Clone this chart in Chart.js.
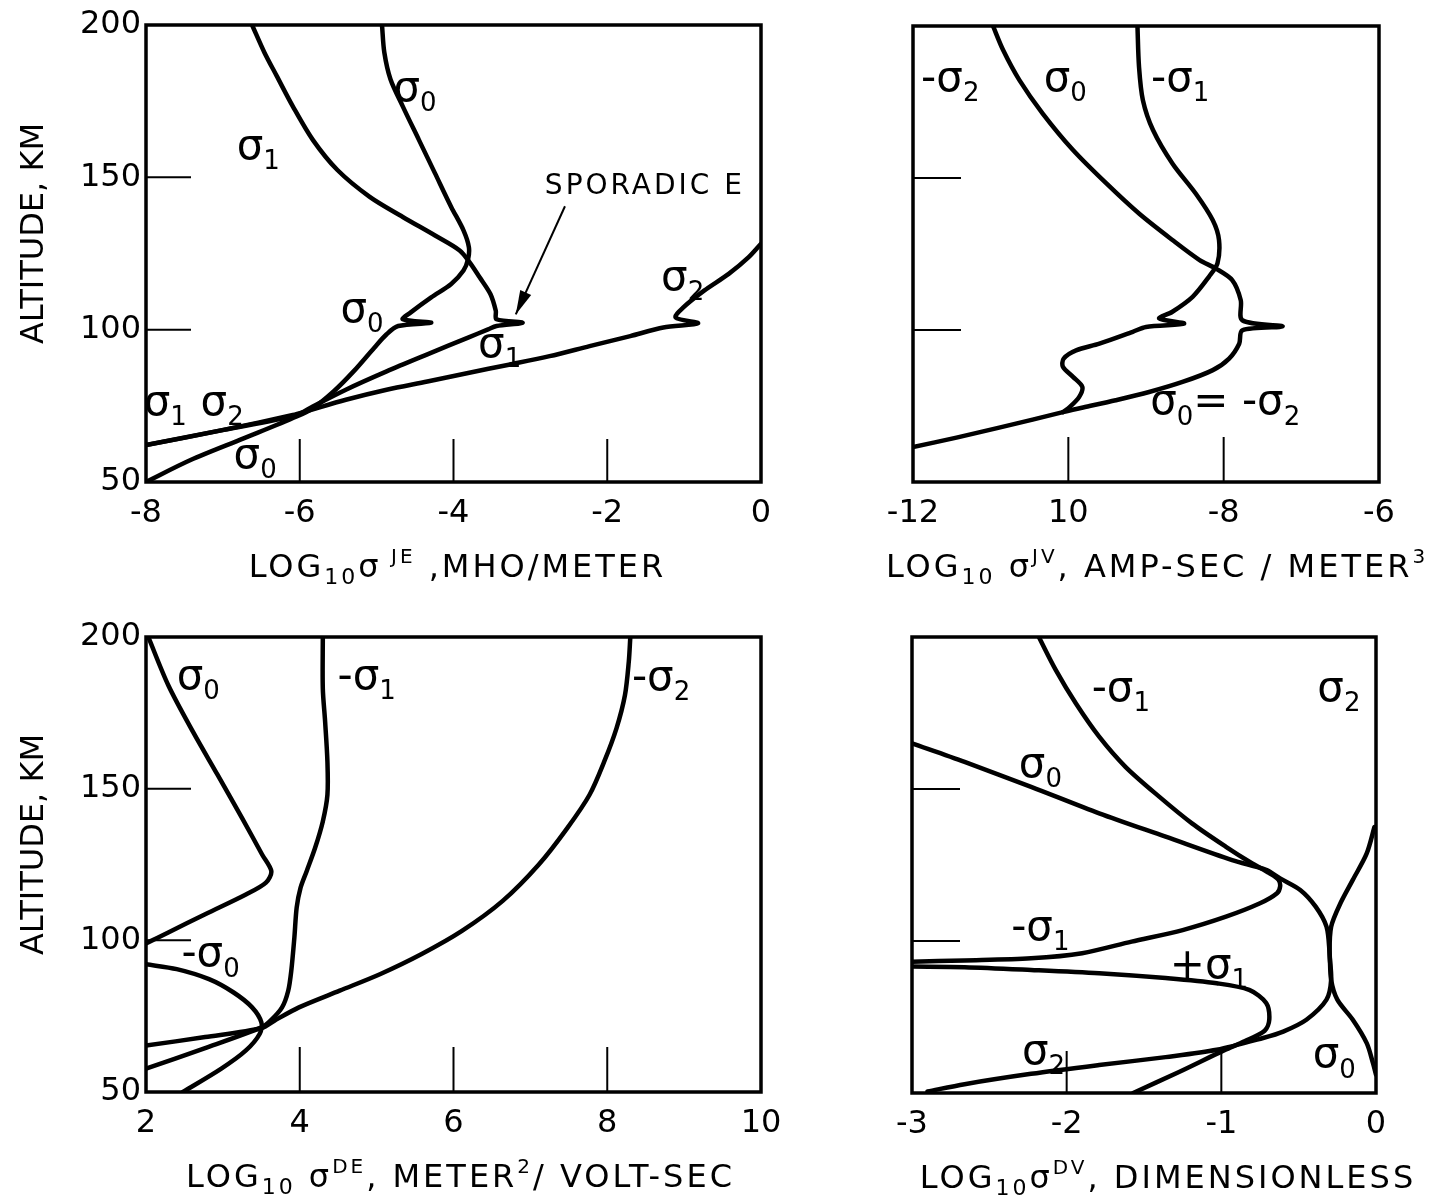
<!DOCTYPE html>
<html>
<head>
<meta charset="utf-8">
<script src="https://cdn.jsdelivr.net/npm/chart.js@4.4.1/dist/chart.umd.min.js"></script>
<style>
  html, body { margin: 0; padding: 0; background: #fff; }
  #wrap { position: relative; width: 1444px; height: 1203px; overflow: hidden; background: #fff; }
  #wrap canvas { position: absolute; }
</style>
</head>
<body>
<div id="wrap">
  <canvas id="pJE" width="800" height="610" style="left:0;top:0"></canvas>
  <canvas id="pJV" width="644" height="610" style="left:800px;top:0"></canvas>
  <canvas id="pDE" width="800" height="593" style="left:0;top:610px"></canvas>
  <canvas id="pDV" width="644" height="593" style="left:800px;top:610px"></canvas>
</div>
<script>
// ---------- altitude profiles (log10 value, altitude km) ----------

// sigma^JE, mho/meter
const jeS1Log = [-6.62,-6.46,-6.30,-6.09,-5.83,-5.51,-5.09,-4.66,-4.24,-3.92,-3.79,-3.66,-3.52,-3.45,-3.44,-3.10,-3.44,-3.55,-3.81,-4.34,-4.87,-5.40,-5.83,-6.04,-6.99,-8.0];
const jeS1Alt = [200,191.0,183.3,173.3,162.3,152.4,143.6,137.0,130.9,126.0,122.1,117.2,111.7,106.2,103.4,102.3,101.2,100.1,97.4,91.9,86.3,80.3,74.8,72.0,67.1,62.1];
const jeS0Log = [-4.93,-4.90,-4.82,-4.66,-4.45,-4.24,-4.03,-3.87,-3.80,-3.81,-3.87,-4.03,-4.29,-4.56,-4.66,-4.29,-4.72,-4.87,-5.03,-5.30,-5.56,-5.83,-6.04,-6.73,-7.42,-8.0];
const jeS0Alt = [200,191,182.2,173.3,162.3,151.3,140.3,132.6,127.1,123.2,119.4,115.0,110.6,105.6,103.4,102.3,101.2,98.5,94.1,86.3,79.7,74.2,71.5,64.3,57.2,50];
const jeS2Log = [0,-0.16,-0.42,-0.74,-1.01,-1.11,-0.82,-1.27,-1.70,-2.23,-2.75,-3.28,-3.81,-4.34,-4.87,-5.40,-5.93,-6.09,-6.99,-8.0];
const jeS2Alt = [128.2,123.8,118.3,112.8,107.3,104.0,102.1,100.7,97.9,94.6,91.3,88.5,85.8,83.0,80.3,77.0,73.1,72.0,67.1,62.1];

// sigma^JV, amp-sec/meter^3
const jvS0Log = [-10.97,-10.84,-10.63,-10.33,-9.94,-9.51,-9.09,-8.66,-8.31,-8.10,-7.89,-7.78,-7.76,-7.24,-7.76,-7.80,-7.93,-8.14,-8.53,-8.96,-9.39,-9.81,-10.07,-10.46,-10.89,-11.44,-12.0];
const jvS0Alt = [200,192.1,182.2,171.2,159.2,148.2,138.3,129.6,123.0,120.2,116.4,109.8,103.2,101.2,99.9,95.5,90.6,86.8,82.9,79.6,76.9,74.5,73.0,70.5,67.9,64.6,61.5];
const jvS1Log = [-9.11,-9.09,-9.04,-8.91,-8.66,-8.36,-8.14,-8.06,-8.08,-8.19,-8.40,-8.66,-8.83,-8.51,-9.0,-9.17,-9.60,-9.90,-10.06,-10.07,-9.94,-9.82,-9.86,-9.98,-10.07];
const jvS1Alt = [200,186.6,175.6,165.8,154.8,144.9,136.1,129.6,121.9,117.5,110.9,106.0,103.8,102.1,101.0,99.4,95.5,93.3,90.6,87.9,84.6,81.3,78.0,74.7,73.0];

// sigma^DE, meter^2/volt-sec
const deS0Log = [2.03,2.29,2.61,2.93,3.25,3.51,3.63,3.56,3.30,2.77,2.29,2.0];
const deS0Alt = [200,184.1,168.8,154.6,140.3,128.3,122.8,119.0,115.1,108.6,102.6,99.0];
const deNegS0Log = [2.0,2.40,2.82,3.14,3.38,3.50,3.48,3.30,2.98,2.48];
const deNegS0Alt = [92.1,90.5,87.2,82.8,77.9,73.0,69.2,63.7,57.7,50];
const deS1Log = [4.30,4.30,4.33,4.36,4.36,4.30,4.20,4.09,4.01,3.96,3.93,3.89,3.85,3.77,3.62,3.51,2.76,2.0];
const deS1Alt = [200,183,172.1,158.9,148.0,139.2,130.5,122.8,117.3,110.8,100.9,90.0,83.4,77.9,73.5,71.4,64.4,57.7];
const deS2Log = [8.30,8.28,8.23,8.12,7.96,7.77,7.48,7.11,6.64,6.11,5.58,5.05,4.52,3.99,3.67,3.51,2.77,2.0];
const deS2Alt = [200,191.8,180.8,169.9,158.9,148.0,137.0,125.0,113.0,103.1,95.4,88.9,83.4,77.9,73.5,71.1,68.1,65.3];

// sigma^DV, dimensionless
const dvNegS1Log = [-2.18,-2.07,-1.94,-1.79,-1.62,-1.40,-1.19,-0.97,-0.80,-0.69,-0.63,-0.62,-0.64,-0.75,-0.97,-1.25,-1.58,-1.90,-2.23,-2.66,-3.0];
const dvNegS1Alt = [200,189.1,178.1,167.2,157.3,147.4,138.7,131.0,125.5,122.3,120.1,117.9,115.7,112.4,108.0,103.6,99.8,96.0,94.3,93.6,93.2];
const dvPosS1Log = [-3.0,-2.66,-2.23,-1.79,-1.36,-1.03,-0.82,-0.71,-0.69,-0.72,-0.85,-0.98,-1.27,-1.57];
const dvPosS1Alt = [91.6,91.4,90.5,89.4,87.8,86.1,83.9,79.6,74.1,70.5,67.0,64.1,57.0,50.0];
const dvS2Log = [-0.01,-0.06,-0.15,-0.23,-0.29,-0.30,-0.29,-0.32,-0.45,-0.60,-0.73,-1.03,-1.36,-1.79,-2.23,-2.66,-2.90];
const dvS2Alt = [137.5,128.8,120.1,112.4,104.7,96.0,87.2,80.7,74.1,70.2,68.1,64.2,61.8,59.2,56.3,52.9,50.5];
const dvS0Log = [-3.0,-2.66,-2.23,-1.79,-1.36,-0.93,-0.71,-0.62,-0.49,-0.39,-0.32,-0.30,-0.29,-0.25,-0.15,-0.06,-0.02,0.0];
const dvS0Alt = [165.0,158.9,150.7,142.0,134.3,126.6,123.4,120.6,116.8,111.3,104.7,96.0,87.2,80.7,74.1,66.4,59.9,56.0];

// tick labels
const altTickLabels = ['50', '100', '150', '200'];
const jeTickLabels = ['-8', '-6', '-4', '-2', '0'];
const jvTickLabels = ['-12', '10', '-8', '-6'];
const deTickLabels = ['2', '4', '6', '8', '10'];
const dvTickLabels = ['-3', '-2', '-1', '0'];

// ---------- drawing helpers ----------
const FONT = '"DejaVu Sans", "Liberation Sans", sans-serif';

function pts(xs, ys) { return xs.map((x, i) => ({ x: x, y: ys[i] })); }

function curve(xs, ys) {
  return {
    data: pts(xs, ys), showLine: true, borderColor: '#000', borderWidth: 4.5,
    pointRadius: 0, pointHoverRadius: 0, tension: 0.3, fill: false,
    borderCapStyle: 'round', borderJoinStyle: 'round'
  };
}

// draws text made of normal / subscript / superscript runs, centred on (cx, cy)
function drawRich(ctx, parts, cx, cy, size, spacing, mid, subRatio) {
  const runs = parts.map(([t, k]) => {
    const s = k === 'n' ? size : Math.round(size * (k === 'sub' ? (subRatio || 0.7) : 0.62));
    const dy = k === 'sub' ? size * 0.24 : (k === 'sup' ? -size * 0.42 : 0);
    return { t, s, dy };
  });
  ctx.save();
  if ('letterSpacing' in ctx) ctx.letterSpacing = spacing + 'px';
  ctx.fillStyle = '#000';
  ctx.textAlign = 'left';
  ctx.textBaseline = 'alphabetic';
  let total = 0;
  runs.forEach(r => { ctx.font = r.s + 'px ' + FONT; r.w = ctx.measureText(r.t).width; total += r.w; });
  let x = cx - total / 2;
  const base = cy + size * mid;
  runs.forEach(r => { ctx.font = r.s + 'px ' + FONT; ctx.fillText(r.t, x, base + r.dy); x += r.w; });
  ctx.restore();
}

function seg(ctx, x1, y1, x2, y2) { ctx.beginPath(); ctx.moveTo(x1, y1); ctx.lineTo(x2, y2); ctx.stroke(); }

const paperPlugin = {
  id: 'paper',
  afterDatasetsDraw(chart, args, o) {
    const ctx = chart.ctx, a = chart.chartArea, sx = chart.scales.x, sy = chart.scales.y;
    ctx.save();
    ctx.strokeStyle = '#000';
    ctx.lineCap = 'butt';
    // frame
    ctx.lineWidth = 3.5;
    ctx.strokeRect(a.left, a.top, a.right - a.left, a.bottom - a.top);
    // inward tick marks
    ctx.lineWidth = 2;
    o.yMarks.forEach(v => { const p = sy.getPixelForValue(v); seg(ctx, a.left, p, a.left + o.yMarkLen, p); });
    o.xMarks.forEach(v => { const p = sx.getPixelForValue(v); seg(ctx, p, a.bottom, p, a.bottom - o.xMarkLen); });
    // pointer arrow
    if (o.arrow) {
      const x1 = sx.getPixelForValue(o.arrow.from[0]), y1 = sy.getPixelForValue(o.arrow.from[1]);
      const x2 = sx.getPixelForValue(o.arrow.to[0]), y2 = sy.getPixelForValue(o.arrow.to[1]);
      ctx.lineWidth = 2;
      seg(ctx, x1, y1, x2, y2);
      const ang = Math.atan2(y2 - y1, x2 - x1), L = 24, W = 6;
      ctx.beginPath();
      ctx.moveTo(x2, y2);
      ctx.lineTo(x2 - L * Math.cos(ang) + W * Math.sin(ang), y2 - L * Math.sin(ang) - W * Math.cos(ang));
      ctx.lineTo(x2 - L * Math.cos(ang) - W * Math.sin(ang), y2 - L * Math.sin(ang) + W * Math.cos(ang));
      ctx.closePath();
      ctx.fillStyle = '#000';
      ctx.fill();
    }
    ctx.restore();
    // curve labels
    o.notes.forEach(n => drawRich(ctx, n.parts, sx.getPixelForValue(n.x), sy.getPixelForValue(n.y),
      n.size || 42, n.spacing || 0, n.mid || 0.26, n.size ? 0.7 : 0.62));
    // axis titles
    const cxA = (a.left + a.right) / 2, cyA = (a.top + a.bottom) / 2;
    drawRich(ctx, o.xTitle, cxA + o.xTitleDx, a.bottom + 83, 32, 3, 0.36);
    if (o.yTitle) {
      ctx.save();
      ctx.translate(31, cyA - 20);
      ctx.rotate(-Math.PI / 2);
      drawRich(ctx, [[o.yTitle, 'n']], 0, 0, 32, 0, 0.36);
      ctx.restore();
    }
  }
};

function makeChart(id, sets, xr, xLabels, showAlt, yW, xH, pad, paper) {
  return new Chart(document.getElementById(id), {
    type: 'scatter',
    data: { datasets: sets },
    options: {
      responsive: false, animation: false, events: [],
      layout: { autoPadding: false, padding: pad },
      plugins: { legend: { display: false }, tooltip: { enabled: false }, paper: paper },
      scales: {
        x: {
          type: 'linear', min: xr[0], max: xr[1],
          grid: { display: false, drawTicks: false }, border: { display: false },
          ticks: {
            stepSize: xr[2], autoSkip: false, maxRotation: 0, padding: 12, color: '#000',
            font: { family: FONT, size: 32 }, callback: (v, i) => xLabels[i]
          },
          afterFit(s) { s.height = xH; }
        },
        y: {
          type: 'linear', min: 50, max: 200,
          grid: { display: false, drawTicks: false }, border: { display: false },
          ticks: {
            display: showAlt, stepSize: 50, autoSkip: false, padding: 5, color: '#000',
            font: { family: FONT, size: 32 }, callback: (v, i) => altTickLabels[i]
          },
          afterFit(s) { s.width = yW; }
        }
      }
    },
    plugins: [paperPlugin]
  });
}

const sig = (pre, d) => [[pre + 'σ', 'n'], [d, 'sub']];

// ---------- sigma^JE ----------
makeChart('pJE',
  [curve(jeS1Log, jeS1Alt), curve(jeS0Log, jeS0Alt), curve(jeS2Log, jeS2Alt)],
  [-8, 0, 2], jeTickLabels, true, 146, 128, { left: 0, top: 25, right: 39, bottom: 0 },
  {
    yMarks: [100, 150], yMarkLen: 45, xMarks: [-6, -4, -2], xMarkLen: 43,
    arrow: { from: [-2.55, 140.5], to: [-3.19, 105.0] },
    notes: [
      { x: -6.54, y: 159.6, parts: sig('', '1') },
      { x: -4.50, y: 178.7, parts: sig('', '0') },
      { x: -1.51, y: 148.0, parts: [['SPORADIC E', 'n']], size: 28, spacing: 3, mid: 0.36 },
      { x: -5.19, y: 106.0, parts: sig('', '0') },
      { x: -3.40, y: 94.5, parts: sig('', '1') },
      { x: -1.02, y: 116.5, parts: sig('', '2') },
      { x: -7.75, y: 75.5, parts: sig('', '1') },
      { x: -7.01, y: 75.5, parts: sig('', '2') },
      { x: -6.58, y: 58.2, parts: sig('', '0') }
    ],
    xTitle: [['LOG', 'n'], ['10', 'sub'], ['σ', 'n'], [' JE', 'sup'], [' ,MHO/METER', 'n']], xTitleDx: 4,
    yTitle: 'ALTITUDE, KM'
  });

// ---------- sigma^JV ----------
makeChart('pJV',
  [curve(jvS0Log, jvS0Alt), curve(jvS1Log, jvS1Alt)],
  [-12, -6, 2], jvTickLabels, false, 113, 128, { left: 0, top: 26, right: 65, bottom: 0 },
  {
    yMarks: [100, 150], yMarkLen: 48, xMarks: [-10, -8], xMarkLen: 45,
    notes: [
      { x: -11.52, y: 182.2, parts: sig('-', '2') },
      { x: -10.04, y: 182.2, parts: sig('', '0') },
      { x: -8.56, y: 182.2, parts: sig('-', '1') },
      { x: -7.98, y: 75.8, parts: [['σ', 'n'], ['0', 'sub'], ['= -σ', 'n'], ['2', 'sub']] }
    ],
    xTitle: [['LOG', 'n'], ['10', 'sub'], [' σ', 'n'], ['JV', 'sup'], [', AMP-SEC / METER', 'n'], ['3', 'sup']], xTitleDx: 11
  });

// ---------- sigma^DE ----------
makeChart('pDE',
  [curve(deS0Log, deS0Alt), curve(deNegS0Log, deNegS0Alt), curve(deS1Log, deS1Alt), curve(deS2Log, deS2Alt)],
  [2, 10, 2], deTickLabels, true, 146, 111, { left: 0, top: 27, right: 39, bottom: 0 },
  {
    yMarks: [100, 150], yMarkLen: 45, xMarks: [4, 6, 8], xMarkLen: 45,
    notes: [
      { x: 2.68, y: 186.5, parts: sig('', '0') },
      { x: 4.87, y: 186.5, parts: sig('-', '1') },
      { x: 8.70, y: 186.0, parts: sig('-', '2') },
      { x: 2.84, y: 95.0, parts: sig('-', '0') }
    ],
    xTitle: [['LOG', 'n'], ['10', 'sub'], [' σ', 'n'], ['DE', 'sup'], [', METER', 'n'], ['2', 'sup'], ['/ VOLT-SEC', 'n']], xTitleDx: 7,
    yTitle: 'ALTITUDE, KM'
  });

// ---------- sigma^DV ----------
makeChart('pDV',
  [curve(dvNegS1Log, dvNegS1Alt), curve(dvPosS1Log, dvPosS1Alt), curve(dvS2Log, dvS2Alt), curve(dvS0Log, dvS0Alt)],
  [-3, 0, 1], dvTickLabels, false, 112, 110, { left: 0, top: 27, right: 68, bottom: 0 },
  {
    yMarks: [100, 150], yMarkLen: 48, xMarks: [-2, -1], xMarkLen: 42,
    notes: [
      { x: -1.65, y: 182.5, parts: sig('-', '1') },
      { x: -0.24, y: 182.5, parts: sig('', '2') },
      { x: -2.17, y: 157.5, parts: sig('', '0') },
      { x: -2.17, y: 104.0, parts: sig('-', '1') },
      { x: -1.08, y: 91.5, parts: sig('+', '1') },
      { x: -2.15, y: 63.0, parts: sig('', '2') },
      { x: -0.27, y: 62.0, parts: sig('', '0') }
    ],
    xTitle: [['LOG', 'n'], ['10', 'sub'], ['σ', 'n'], ['DV', 'sup'], [', DIMENSIONLESS', 'n']], xTitleDx: 24
  });
</script>
</body>
</html>
